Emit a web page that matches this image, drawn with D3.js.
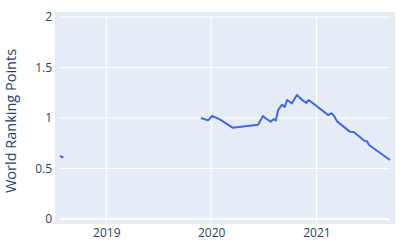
<!DOCTYPE html>
<html><head><meta charset="utf-8">
<script src="https://cdn.jsdelivr.net/npm/d3@7"></script>
<style>body{margin:0;background:#fff;}svg{display:block;font-family:"Open Sans",sans-serif;}</style>
</head><body><svg id="c" width="400" height="250"></svg>
<script>
const dates = ["2018-07-24","2018-07-29","2018-08-05",null,
"2019-11-26","2019-12-21","2020-01-04","2020-01-31","2020-03-15","2020-06-12","2020-06-29","2020-07-09","2020-07-26","2020-08-06","2020-08-13","2020-08-21","2020-09-03","2020-09-13","2020-09-21","2020-10-08","2020-10-25","2020-11-12","2020-11-27","2020-12-05","2021-01-30","2021-02-10","2021-02-22","2021-03-03","2021-03-15","2021-04-27","2021-05-12","2021-06-18","2021-06-26","2021-07-03","2021-09-14"];
const points = [0.625,0.617,0.61,null,
1.0,0.977,1.02,0.987,0.904,0.934,1.02,0.995,0.964,0.99,0.975,1.08,1.13,1.11,1.178,1.145,1.228,1.18,1.15,1.178,1.056,1.03,1.046,1.023,0.964,0.865,0.858,0.772,0.769,0.733,0.584];
const yTicks = [0,0.5,1,1.5,2];
const yTickLabels = ["0","0.5","1","1.5","2"];
const xTicks = ["2019-01-01","2020-01-01","2021-01-01"];
const xTickLabels = ["2019","2020","2021"];
const yTitle = "World Ranking Points";

const parse = d3.utcParse("%Y-%m-%d");
const data = dates.map((d,i)=>({d: d? parse(d):null, v: points[i]}));
const valid = data.filter(p=>p.d);
const svg = d3.select("#c");
const L=60,R=390,T=17,B=219;
const x = d3.scaleUtc().domain(d3.extent(valid,p=>p.d)).range([L,R]);
const y = d3.scaleLinear().domain([0,2]).range([B,T]);
const ink = "#2a3f5f";
svg.append("rect").attr("x",L-5).attr("y",T-5).attr("width",R-L+10).attr("height",B-T+10).attr("fill","#E5ECF6");
// grid
svg.append("g").selectAll("line").data(yTicks.slice(1)).join("line")
 .attr("x1",L).attr("x2",R).attr("y1",d=>y(d)).attr("y2",d=>y(d)).attr("stroke","#fff").attr("stroke-width",1);
svg.append("g").selectAll("line").data(xTicks).join("line")
 .attr("x1",d=>x(parse(d))).attr("x2",d=>x(parse(d))).attr("y1",T).attr("y2",B+5).attr("stroke","#fff").attr("stroke-width",1);
svg.append("line").attr("x1",L).attr("x2",R).attr("y1",y(0)).attr("y2",y(0)).attr("stroke","#fff").attr("stroke-width",2);
// axes
const ya = d3.axisLeft(y).tickValues(yTicks).tickFormat((d,i)=>yTickLabels[i]).tickSize(0).tickPadding(3);
const yg = svg.append("g").attr("transform",`translate(${L-5},0)`).call(ya);
yg.select(".domain").remove();
yg.selectAll("text").attr("fill",ink).attr("font-size",12).attr("font-family","Open Sans");
const xa = d3.axisBottom(x).tickValues(xTicks.map(parse)).tickFormat((d,i)=>xTickLabels[i]).tickSize(0).tickPadding(4);
const xg = svg.append("g").attr("transform",`translate(0,${B+5})`).call(xa);
xg.select(".domain").remove();
xg.selectAll("text").attr("fill",ink).attr("font-size",12).attr("font-family","Open Sans");
svg.append("text").attr("transform",`translate(16,${(T+B)/2+3}) rotate(-90)`).attr("text-anchor","middle")
 .attr("fill",ink).attr("font-size",14.5).text(yTitle);
// line
const line = d3.line().defined(p=>p.d!==null && p.v!==null).x(p=>x(p.d)).y(p=>y(p.v));
svg.append("path").datum(data).attr("d",line).attr("fill","none").attr("stroke","#4169E1").attr("stroke-width",2).attr("stroke-linejoin","round");
</script></body></html>
